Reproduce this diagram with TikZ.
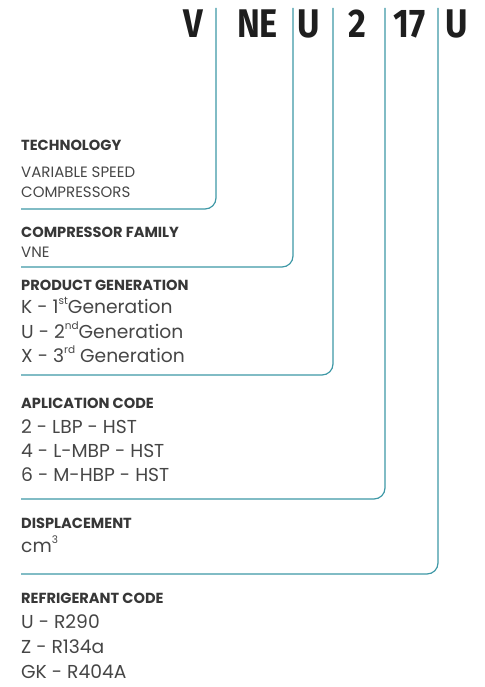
\documentclass[tikz,border=0pt]{standalone}
\usepackage{fontspec}
\setmainfont{Poppins}
\newfontfamily\codefont{Fira Sans}
\definecolor{tealline}{RGB}{62,152,166}
\definecolor{headtxt}{RGB}{55,55,55}
\definecolor{valtxt}{RGB}{70,70,70}
\definecolor{codetxt}{RGB}{30,30,30}
\newcommand{\mysup}[1]{\raisebox{0.45em}{\fontsize{10.5}{10.5}\selectfont #1}}
\newcommand{\codetxt}[1]{\scalebox{0.86}[1]{#1}}
\begin{document}
\begin{tikzpicture}[x=1pt,y=-1pt,
  code/.style={font=\codefont\bfseries\fontsize{40}{40}\selectfont, text=codetxt, anchor=base, inner sep=0pt},
  head/.style={font=\bfseries\fontsize{14.6}{14.6}\selectfont, text=headtxt, anchor=base west, inner sep=0pt},
  val/.style={font=\fontsize{15}{15}\selectfont, text=valtxt, anchor=base west, inner sep=0pt},
  bigval/.style={font=\fontsize{18.7}{18.7}\selectfont, text=valtxt, anchor=base west, inner sep=0pt},
  conn/.style={draw=tealline, line width=1.2pt, rounded corners=11pt}]
\useasboundingbox (0,0) rectangle (484,687);

% code letters
\node[code] (c1) at (193.5,38) {\codetxt{V}};
\node[code] (c2) at (257.5,38) {\codetxt{NE}};
\node[code] (c3) at (309,38) {\codetxt{U}};
\node[code] (c4) at (357,38) {\codetxt{2}};
\node[code] (c5) at (410,38) {\codetxt{17}};
\node[code] (c6) at (456.5,38) {\codetxt{U}};

% connector ends
\coordinate (t1) at (216,8);  \coordinate (e1) at (21,209);
\coordinate (t2) at (293,8);  \coordinate (e2) at (21,267);
\coordinate (t3) at (333,8);  \coordinate (e3) at (21,375);
\coordinate (t4) at (385,8);  \coordinate (e4) at (21,499);
\coordinate (t5) at (438,8);  \coordinate (e5) at (21,574);
\draw[conn] (t1) |- (e1);
\draw[conn] (t2) |- (e2);
\draw[conn] (t3) |- (e3);
\draw[conn] (t4) |- (e4);
\draw[conn] (t5) |- (e5);

% technology
\node[head] (h1) at (21,150) {TECHNOLOGY};
\node[val] (v1a) at (21,177) {VARIABLE SPEED};
\node[val] (v1b) at (21,197) {COMPRESSORS};
% family
\node[head] (h2) at (21,237) {COMPRESSOR FAMILY};
\node[val] (v2a) at (21,257) {VNE};
% generation
\node[head] (h3) at (21,290) {PRODUCT GENERATION};
\node[bigval] (v3a) at (21,313) {K - 1\mysup{st}Generation};
\node[bigval] (v3b) at (21,338) {U - 2\mysup{nd}Generation};
\node[bigval] (v3c) at (21,362) {X - 3\mysup{rd} Generation};
% application
\node[head] (h4) at (21,408) {APLICATION CODE};
\node[bigval] (v4a) at (21,433) {2 - LBP - HST};
\node[bigval] (v4b) at (21,457) {4 - L-MBP - HST};
\node[bigval] (v4c) at (21,481) {6 - M-HBP - HST};
% displacement
\node[head] (h5) at (21,528) {DISPLACEMENT};
\node[bigval] (v5a) at (21,552) {cm\mysup{3}};
% refrigerant
\node[head] (h6) at (21,603) {REFRIGERANT CODE};
\node[bigval] (v6a) at (21,628) {U - R290};
\node[bigval] (v6b) at (21,653) {Z - R134a};
\node[bigval] (v6c) at (21,678) {GK - R404A};
\end{tikzpicture}
\end{document}
